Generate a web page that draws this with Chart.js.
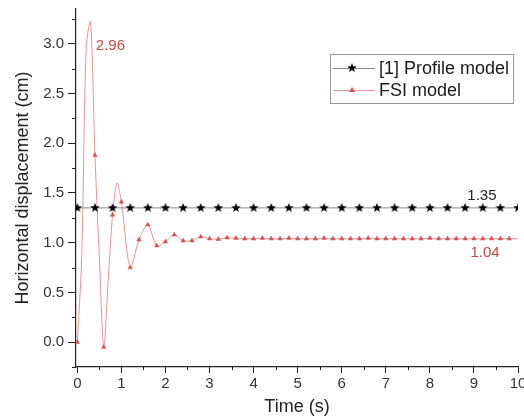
<!DOCTYPE html>
<html>
<head>
<meta charset="utf-8">
<script src="https://cdn.jsdelivr.net/npm/chart.js@4.4.1/dist/chart.umd.min.js"></script>
<style>
html, body { margin: 0; padding: 0; background: #fff; }
#wrap { width: 524px; height: 418px; }
</style>
</head>
<body>
<div id="wrap"><canvas id="dispChart"></canvas></div>
<script>
// values
const profileTime = [0, 0.4, 0.8, 1.2, 1.6, 2.0, 2.4, 2.8, 3.2, 3.6, 4.0, 4.4, 4.8, 5.2, 5.6, 6.0, 6.4, 6.8, 7.2, 7.6, 8.0, 8.4, 8.8, 9.2, 9.6, 10.0];
const profileDisp = [1.35, 1.35, 1.35, 1.35, 1.35, 1.35, 1.35, 1.35, 1.35, 1.35, 1.35, 1.35, 1.35, 1.35, 1.35, 1.35, 1.35, 1.35, 1.35, 1.35, 1.35, 1.35, 1.35, 1.35, 1.35, 1.35];

const fsiTime = [0, 0.1, 0.2, 0.3, 0.4, 0.5, 0.6, 0.7, 0.8, 0.9, 1.0,
  1.2, 1.4, 1.6, 1.8, 2.0, 2.2, 2.4, 2.6, 2.8, 3.0, 3.2, 3.4, 3.6, 3.8, 4.0,
  4.2, 4.4, 4.6, 4.8, 5.0, 5.2, 5.4, 5.6, 5.8, 6.0, 6.2, 6.4, 6.6, 6.8, 7.0,
  7.2, 7.4, 7.6, 7.8, 8.0, 8.2, 8.4, 8.6, 8.8, 9.0, 9.2, 9.4, 9.6, 9.8, 10.0];
const fsiDisp = [0, 0.85, 2.96, 3.22, 1.88, 0.85, -0.05, 0.62, 1.28, 1.60, 1.41,
  0.75, 1.03, 1.18, 0.97, 1.01, 1.08, 1.02, 1.02, 1.06, 1.04, 1.035, 1.05, 1.045, 1.04, 1.04,
  1.045, 1.04, 1.04, 1.045, 1.04, 1.04, 1.04, 1.045, 1.04, 1.04, 1.04, 1.04, 1.045, 1.04, 1.04,
  1.04, 1.04, 1.04, 1.04, 1.045, 1.04, 1.04, 1.04, 1.04, 1.04, 1.04, 1.04, 1.04, 1.04, 1.04];
// samples of the curve that carry no symbol in the figure
const fsiNoSymbol = [0.1, 0.2, 0.3, 0.5, 0.7, 0.9, 10.0];

const xTicks = [0, 1, 2, 3, 4, 5, 6, 7, 8, 9, 10];
const xMinorTicks = [0.5, 1.5, 2.5, 3.5, 4.5, 5.5, 6.5, 7.5, 8.5, 9.5];
const yTicks = [0, 0.5, 1.0, 1.5, 2.0, 2.5, 3.0];
const yMinorTicks = [-0.25, 0.25, 0.75, 1.25, 1.75, 2.25, 2.75, 3.25];

const seriesNames = ['[1] Profile model', 'FSI model'];
const valueLabels = [
  { text: '2.96', x: 0.42, y: 2.98, color: '#c94848' },
  { text: '1.35', x: 8.85, y: 1.47, color: '#222' },
  { text: '1.04', x: 8.92, y: 0.90, color: '#c94848' }
];

const FONT = "'Liberation Sans', Arial, sans-serif";
const RED_LINE = 'rgba(232,120,120,0.8)';
const RED_MARK = '#d65252';

// filled five point star used as symbol
function makeStar(size) {
  const c = document.createElement('canvas');
  c.width = size; c.height = size;
  const g = c.getContext('2d');
  const cx = size / 2, cy = size / 2, ro = size / 2, ri = ro * 0.42;
  g.beginPath();
  for (let i = 0; i < 10; i++) {
    const r = i % 2 === 0 ? ro : ri;
    const a = -Math.PI / 2 + i * Math.PI / 5;
    g.lineTo(cx + r * Math.cos(a), cy + r * Math.sin(a));
  }
  g.closePath();
  g.fillStyle = '#000';
  g.fill();
  return c;
}
const starImg = makeStar(10);

const minorTicks = {
  id: 'minorTicks',
  afterDraw(chart) {
    const ctx = chart.ctx, xs = chart.scales.x, ys = chart.scales.y;
    ctx.save();
    ctx.strokeStyle = '#222';
    ctx.lineWidth = 1;
    ctx.beginPath();
    xMinorTicks.forEach(v => {
      const px = Math.round(xs.getPixelForValue(v)) + 0.5;
      ctx.moveTo(px, xs.top); ctx.lineTo(px, xs.top + 3);
    });
    yMinorTicks.forEach(v => {
      const py = Math.round(ys.getPixelForValue(v)) + 0.5;
      ctx.moveTo(ys.right, py); ctx.lineTo(ys.right - 4, py);
    });
    ctx.stroke();
    ctx.restore();
  }
};

const textLabels = {
  id: 'textLabels',
  afterDatasetsDraw(chart) {
    const ctx = chart.ctx, xs = chart.scales.x, ys = chart.scales.y;
    ctx.save();
    ctx.font = '15px ' + FONT;
    ctx.textAlign = 'left';
    ctx.textBaseline = 'middle';
    valueLabels.forEach(l => {
      ctx.fillStyle = l.color;
      ctx.fillText(l.text, xs.getPixelForValue(l.x), ys.getPixelForValue(l.y));
    });
    ctx.restore();
  }
};

const boxLegend = {
  id: 'boxLegend',
  afterDraw(chart) {
    const ctx = chart.ctx;
    const left = 330, top = 54, w = 183, h = 49;
    ctx.save();
    ctx.fillStyle = '#fff';
    ctx.fillRect(left, top, w, h);
    ctx.strokeStyle = '#999';
    ctx.lineWidth = 1;
    ctx.strokeRect(left + 0.5, top + 0.5, w, h);
    const rows = [top + 14, top + 36];
    chart.data.datasets.forEach((ds, i) => {
      const y = rows[i];
      ctx.strokeStyle = ds.borderColor;
      ctx.lineWidth = 1;
      ctx.beginPath();
      ctx.moveTo(left + 3, y + 0.5); ctx.lineTo(left + 45, y + 0.5);
      ctx.stroke();
      const mx = left + 22;
      if (i === 0) {
        ctx.drawImage(starImg, mx - 5, y - 5);
      } else {
        ctx.fillStyle = RED_MARK;
        ctx.beginPath();
        ctx.moveTo(mx, y - 3); ctx.lineTo(mx + 3, y + 2); ctx.lineTo(mx - 3, y + 2);
        ctx.closePath(); ctx.fill();
      }
      ctx.fillStyle = '#1a1a1a';
      ctx.font = '18px ' + FONT;
      ctx.textBaseline = 'middle';
      ctx.fillText(seriesNames[i], left + 49, y + 1);
    });
    ctx.restore();
  }
};

const ctx = document.getElementById('dispChart').getContext('2d');

new Chart(ctx, {
  type: 'line',
  data: {
    datasets: [
      {
        label: seriesNames[0],
        data: profileTime.map((t, i) => ({ x: t, y: profileDisp[i] })),
        borderColor: '#8a8a8a',
        borderWidth: 1,
        pointStyle: starImg,
        pointRadius: 5,
        tension: 0,
        order: 0
      },
      {
        label: seriesNames[1],
        data: fsiTime.map((t, i) => ({ x: t, y: fsiDisp[i] })),
        borderColor: RED_LINE,
        borderWidth: 1,
        pointStyle: 'triangle',
        pointRadius: c => fsiNoSymbol.includes(fsiTime[c.dataIndex]) ? 0 : 2.6,
        pointBackgroundColor: RED_MARK,
        pointBorderColor: RED_MARK,
        pointBorderWidth: 0.5,
        tension: 0.3,
        order: 1
      }
    ]
  },
  options: {
    responsive: true,
    maintainAspectRatio: false,
    animation: false,
    layout: { padding: { top: 9, right: 6, left: 0, bottom: 0 } },
    plugins: {
      legend: { display: false },
      tooltip: { enabled: false }
    },
    scales: {
      x: {
        type: 'linear',
        min: -0.03,
        max: 10,
        afterBuildTicks: s => { s.ticks = xTicks.map(v => ({ value: v })); },
        afterFit: s => { s.height = 51; s.paddingLeft = 0; s.paddingRight = 0; },
        ticks: {
          color: '#333',
          font: { family: FONT, size: 15 },
          padding: 2,
          maxRotation: 0,
          callback: v => String(v)
        },
        grid: { drawOnChartArea: false, tickLength: 6, tickColor: '#222' },
        border: { color: '#222', width: 1.2 },
        title: {
          display: true,
          text: 'Time (s)',
          color: '#222',
          font: { family: FONT, size: 18 },
          padding: { top: 0, bottom: 0 }
        }
      },
      y: {
        min: -0.25,
        max: 3.35,
        afterBuildTicks: s => { s.ticks = yTicks.map(v => ({ value: v })); },
        afterFit: s => { s.width = 76; s.paddingTop = 0; s.paddingBottom = 0; },
        ticks: {
          color: '#333',
          font: { family: FONT, size: 15 },
          padding: 4,
          callback: v => v.toFixed(1)
        },
        grid: { drawOnChartArea: false, tickLength: 8, tickColor: '#222' },
        border: { color: '#222', width: 1.2 },
        title: {
          display: true,
          text: 'Horizontal displacement (cm)',
          color: '#222',
          font: { family: FONT, size: 18 },
          padding: { top: 12, bottom: 0 }
        }
      }
    }
  },
  plugins: [minorTicks, textLabels, boxLegend]
});
</script>
</body>
</html>
